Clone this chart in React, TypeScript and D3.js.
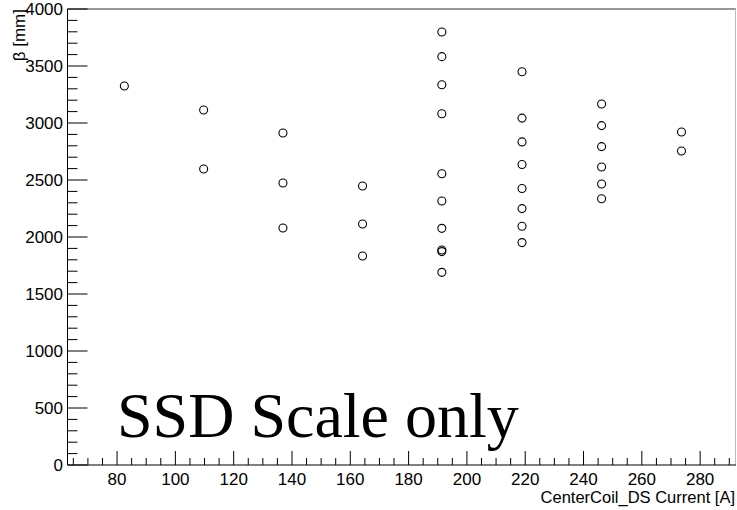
import React from "react";
import * as d3 from "d3";

const currents = [82.5, 109.7, 136.9, 164.2, 191.4, 218.9, 246.2, 273.6];
const betaValues: number[][] = [
  [3325],
  [3114, 2596],
  [2912, 2474, 2079],
  [2447, 2114, 1833],
  [3798, 3582, 3336, 3081, 2555, 2316, 2076, 1886, 1872, 1690],
  [3450, 3043, 2834, 2636, 2425, 2249, 2094, 1951],
  [3167, 2977, 2793, 2614, 2465, 2336],
  [2921, 2754],
];
const xTicks = [80, 100, 120, 140, 160, 180, 200, 220, 240, 260, 280];
const yTicks = [0, 500, 1000, 1500, 2000, 2500, 3000, 3500, 4000];
const xTitle = "CenterCoil_DS Current [A]";
const yTitle = "β [mm]";
const annotation = "SSD Scale only";

export default function App() {
  const W = 737, H = 510;
  const L = 67.5, R = 736, T = 9, B = 465;
  const x = d3.scaleLinear().domain([63, 292.3]).range([L, R]);
  const y = d3.scaleLinear().domain([0, 4000]).range([B, T]);
  const xMinor = d3.range(65, 292, 5);
  const yMinor = d3.range(0, 4001, 100);
  const pts: { cx: number; cy: number }[] = [];
  currents.forEach((c, i) => betaValues[i].forEach((v) => pts.push({ cx: x(c), cy: y(v) })));
  const sans = "'Liberation Sans', Arial, sans-serif";
  return (
    <svg width={W} height={H} style={{ position: "absolute", left: 0, top: 0, background: "#fff" }}>
      <rect x={0} y={0} width={W} height={H} fill="#fff" />
      {/* frame */}
      <line x1={L} x2={R} y1={T} y2={T} stroke="#333" strokeWidth={1.2} />
      <line x1={R - 0.5} x2={R - 0.5} y1={T} y2={B} stroke="#bbb" strokeWidth={1} />
      <line x1={L} x2={L} y1={T} y2={B} stroke="#000" strokeWidth={1} />
      <line x1={L} x2={R} y1={B} y2={B} stroke="#000" strokeWidth={1} />
      {/* y ticks */}
      {yMinor.map((v) => {
        const major = v % 500 === 0;
        return <line key={"ym" + v} x1={L} x2={L + (major ? 20 : 10)} y1={y(v)} y2={y(v)} stroke="#000" strokeWidth={1} />;
      })}
      {yTicks.map((v) => (
        <text key={"yt" + v} x={63} y={y(v)} dy="0.36em" textAnchor="end" fontFamily={sans} fontSize={17} fill="#000">
          {v}
        </text>
      ))}
      {/* x ticks */}
      {xMinor.map((v) => {
        const major = v % 20 === 0;
        return <line key={"xm" + v} x1={x(v)} x2={x(v)} y1={B} y2={B - (major ? 14 : 7)} stroke="#000" strokeWidth={1} />;
      })}
      {xTicks.map((v) => (
        <text key={"xt" + v} x={x(v)} y={485} textAnchor="middle" fontFamily={sans} fontSize={17} fill="#000">
          {v}
        </text>
      ))}
      <text x={735} y={503} textAnchor="end" fontFamily={sans} fontSize={16.5} fill="#000">
        {xTitle}
      </text>
      <text transform="translate(25,9) rotate(-90)" textAnchor="end" fontFamily={sans} fontSize={17} fill="#000">
        {yTitle}
      </text>
      {/* points */}
      {pts.map((p, i) => (
        <circle key={i} cx={p.cx} cy={p.cy} r={4} fill="none" stroke="#000" strokeWidth={1.1} />
      ))}
      <text x={117} y={437} fontFamily="'Liberation Serif', 'Times New Roman', serif" fontSize={64} fill="#000">
        {annotation}
      </text>
    </svg>
  );
}
